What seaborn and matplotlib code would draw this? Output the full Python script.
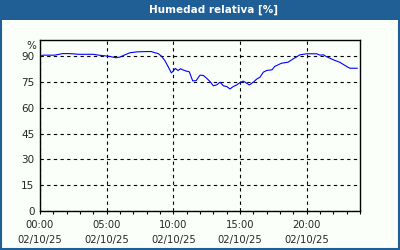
import numpy as np
import pandas as pd
import matplotlib
matplotlib.use("Agg")
import matplotlib.pyplot as plt
from matplotlib.patches import Rectangle
import seaborn as sns

hours = [0.0, 0.2, 1.1, 1.7, 2.2, 2.6, 2.9, 4.0, 4.4, 5.2, 5.7, 6.0, 6.4, 6.75, 7.25,
         8.0, 8.35, 8.6, 8.85, 9.1, 9.35, 9.6, 9.85, 10.0, 10.15, 10.35, 10.55, 10.7,
         10.95, 11.2, 11.45, 11.7, 11.9, 12.0, 12.25, 12.5, 12.75, 13.0, 13.25, 13.5,
         13.75, 14.0, 14.25, 14.5, 14.75, 15.0, 15.25, 15.5, 15.7, 16.0, 16.25, 16.5,
         16.75, 17.0, 17.4, 17.6, 18.1, 18.6, 19.0, 19.5, 20.0, 20.75, 21.0, 21.25,
         21.5, 22.0, 22.5, 23.0, 23.25, 23.8]
humidity = [89.5, 90.5, 90.5, 91.4, 91.4, 91.2, 91.0, 91.0, 90.5, 89.8, 89.0, 89.4, 90.8,
            91.9, 92.4, 92.6, 92.6, 91.9, 91.5, 90.0, 87.5, 84.0, 80.2, 81.4, 82.8,
            81.6, 82.6, 82.0, 81.3, 80.8, 75.6, 75.6, 77.8, 78.9, 78.7, 77.1, 75.2,
            72.7, 73.2, 74.8, 72.7, 72.3, 70.9, 72.3, 73.2, 74.6, 75.4, 74.2, 73.2,
            74.8, 76.6, 77.7, 80.6, 81.6, 82.0, 83.9, 85.8, 86.4, 88.4, 90.7, 91.3,
            91.3, 90.5, 90.7, 89.6, 87.8, 86.3, 83.9, 82.9, 82.9]

x_ticks = [0, 5, 10, 15, 20]
x_labels = ["00:00\n02/10/25", "05:00\n02/10/25", "10:00\n02/10/25",
            "15:00\n02/10/25", "20:00\n02/10/25"]
y_ticks = [0, 15, 30, 45, 60, 75, 90]
title = "Humedad relativa [%]"

sns.set_style("white")
plt.rcParams['font.family'] = ['DejaVu Sans']

W, H = 400, 250
bg = "#fafffa"
blue_bar = "#1f5f96"
fig = plt.figure(figsize=(4, 2.5), dpi=100, facecolor=bg)
ax = fig.add_axes([40 / W, 1 - 211 / H, 320 / W, 171 / H])
ax.set_facecolor(bg)

df = pd.DataFrame({"h": hours, "v": humidity})
sns.lineplot(data=df, x="h", y="v", ax=ax, color="#0000ff", linewidth=0.8)

ax.set_xlim(0, 24)
ax.set_ylim(0, 99.3)
ax.set_xticks(x_ticks)
ax.set_xticklabels(x_labels, fontsize=7.2, linespacing=1.6)
ax.set_xticks(np.arange(0, 25, 1), minor=True)
ax.set_yticks(y_ticks)
ax.set_yticklabels([str(v) for v in y_ticks], fontsize=7.5)
ax.tick_params(axis="x", which="both", direction="out", length=2.5, width=0.8,
               color="black", pad=4, bottom=True)
ax.tick_params(axis="y", length=0, pad=4)
ax.set_xlabel("")
ax.set_ylabel("")
ax.grid(True, which="major", color="black", linestyle=(0, (3, 3)), linewidth=0.8)
for s in ax.spines.values():
    s.set_color("black")
    s.set_linewidth(1.0)
    s.set_visible(True)

ax.text(-0.012, 0.965, "%", transform=ax.transAxes, ha="right", va="center", fontsize=7.5)

# title bar and border
fig.patches.append(Rectangle((0, 1 - 20 / H), 1, 20 / H, transform=fig.transFigure,
                             facecolor=blue_bar, edgecolor="none", zorder=0))
fig.patches.append(Rectangle((1 / W, 1 / H), 1 - 2 / W, 1 - 2 / H, transform=fig.transFigure,
                             facecolor="none", edgecolor=blue_bar, linewidth=1.5, zorder=5))
fig.text(213.5 / W, 1 - 10 / H, title, color="white", fontweight="bold", fontsize=7.5,
         ha="center", va="center")

fig.savefig("out.png", dpi=100, facecolor=bg)
